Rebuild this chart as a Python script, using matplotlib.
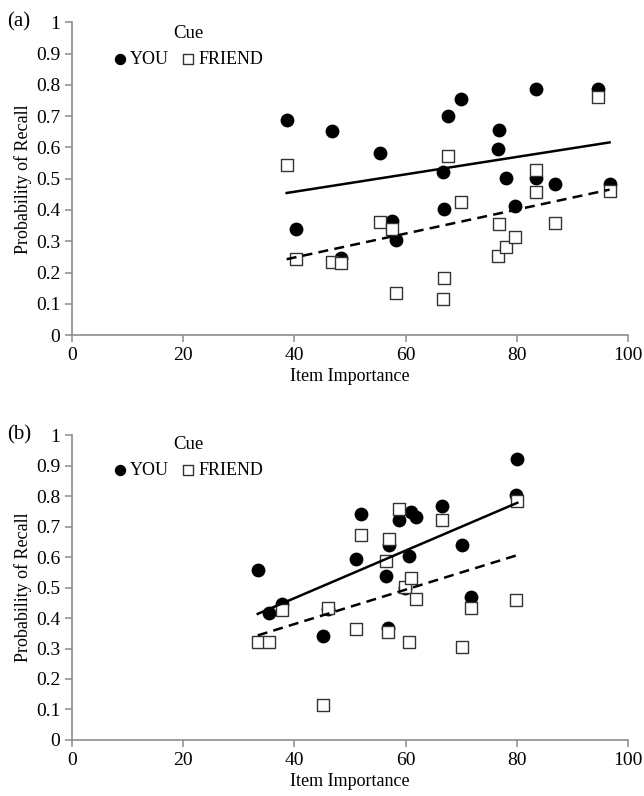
import numpy as np
import matplotlib
matplotlib.use("Agg")
import matplotlib.pyplot as plt

plt.rcParams['font.family'] = ['Liberation Serif', 'DejaVu Serif']

# panel (a)
imp_a = [38.6, 40.2, 46.7, 48.4, 55.4, 57.5, 58.2, 66.8, 66.9, 67.7,
         70.0, 76.8, 76.6, 78.0, 79.7, 83.5, 83.4, 86.8, 94.7, 96.7]
you_a = [0.687, 0.339, 0.652, 0.246, 0.582, 0.365, 0.303, 0.522, 0.402, 0.701,
         0.754, 0.655, 0.594, 0.502, 0.412, 0.788, 0.502, 0.484, 0.786, 0.482]
friend_a = [0.545, 0.242, 0.235, 0.229, 0.360, 0.340, 0.136, 0.116, 0.184, 0.571,
            0.427, 0.355, 0.254, 0.283, 0.313, 0.528, 0.456, 0.357, 0.761, 0.461]

# panel (b)
imp_b = [33.4, 35.5, 37.8, 45.2, 46.1, 51.1, 52.0, 56.4, 57.0, 56.9,
         58.9, 59.9, 61.0, 60.7, 61.8, 66.6, 70.1, 71.7, 79.9, 80.1]
you_b = [0.556, 0.415, 0.445, 0.340, 0.430, 0.592, 0.741, 0.539, 0.639, 0.368,
         0.720, 0.500, 0.748, 0.604, 0.731, 0.769, 0.639, 0.469, 0.805, 0.921]
friend_b = [0.322, 0.322, 0.426, 0.116, 0.432, 0.363, 0.672, 0.587, 0.659, 0.355,
            0.757, 0.503, 0.532, 0.322, 0.464, 0.720, 0.305, 0.432, 0.460, 0.783]

fig = plt.figure(figsize=(6.44, 7.96), dpi=100)
ax_a = fig.add_axes([0.112, 0.579, 0.863, 0.393])
ax_b = fig.add_axes([0.112, 0.0704, 0.863, 0.383])

def panel(ax, x, you, friend, tag, leg_top):
    x = np.array(x)
    ax.scatter(x, you, s=80, marker='o', color='black', zorder=2, label='YOU')
    ax.scatter(x, friend, s=75, marker='s', facecolor='white', edgecolor='#333333',
               linewidth=1.0, zorder=3, label='FRIEND')
    # linear trendlines
    xs = np.array([x.min(), x.max()])
    k, b = np.polyfit(x, you, 1)
    ax.plot(xs, k * xs + b, color='black', lw=1.8, zorder=4)
    k, b = np.polyfit(x, friend, 1)
    ax.plot(xs, k * xs + b, color='black', lw=1.8, ls=(0, (4, 2.5)), zorder=4)

    ax.set_xlim(0, 100)
    ax.set_ylim(0, 1)
    ax.set_xticks([0, 20, 40, 60, 80, 100])
    ax.set_yticks(np.arange(0, 1.01, 0.1))
    ax.set_yticklabels(['0'] + ['%.1f' % v for v in np.arange(0.1, 0.95, 0.1)] + ['1'])
    for s in ['top', 'right']:
        ax.spines[s].set_visible(False)
    for s in ['left', 'bottom']:
        ax.spines[s].set_color('#8c8c8c')
        ax.spines[s].set_linewidth(1.2)
    ax.tick_params(colors='#8c8c8c', labelcolor='black', labelsize=14, length=5, width=1.1)
    ax.set_xlabel('Item Importance', fontsize=13, labelpad=3)
    ax.set_ylabel('Probability of Recall', fontsize=13, labelpad=3)
    ax.text(-0.117, 1.0, tag, transform=ax.transAxes, fontsize=15, va='center', ha='left')
    ax.legend(loc='upper left', bbox_to_anchor=(0.156, leg_top), bbox_transform=fig.transFigure,
              ncol=2, frameon=False, title='Cue', fontsize=13, title_fontsize=13.5,
              handlelength=0.8, handletextpad=0.15, columnspacing=0.65,
              markerscale=0.8, borderpad=0.2)

panel(ax_a, imp_a, you_a, friend_a, '(a)', 0.9844)
panel(ax_b, imp_b, you_b, friend_b, '(b)', 0.4686)

fig.savefig('out.png', dpi=100)
